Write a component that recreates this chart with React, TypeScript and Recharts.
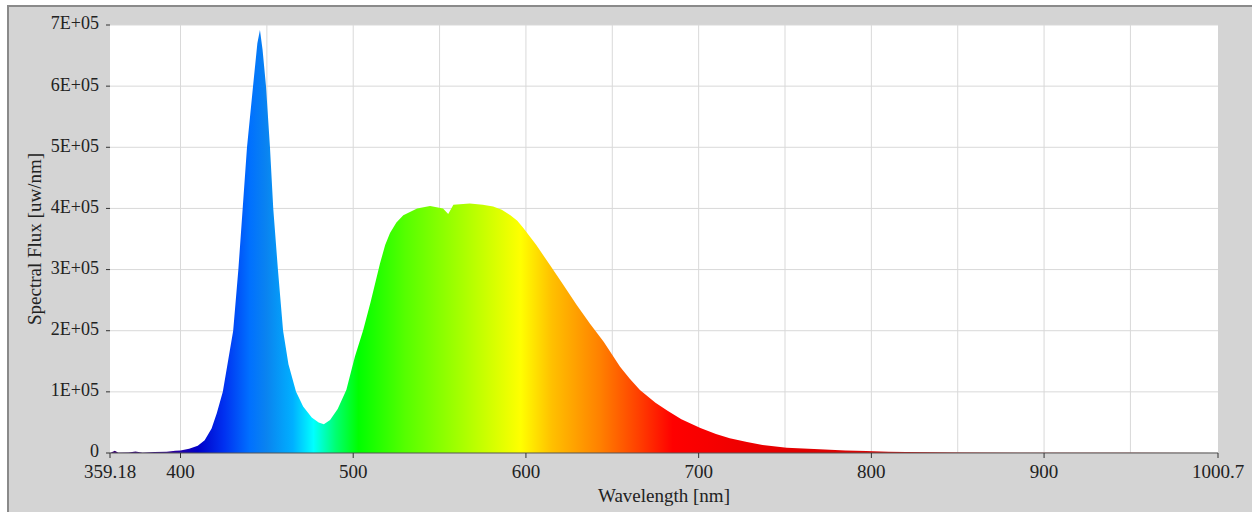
import { AreaChart, Area, XAxis, YAxis, CartesianGrid } from 'recharts';

// wavelength (nm) and spectral flux (uw/nm)
const wavelengths = [
  359.18, 362, 364, 370, 374, 378, 385, 392, 397, 400, 405, 410, 414, 418, 421,
  424.5, 427.5, 430.5, 433.5, 436, 438.5, 442, 444.5, 446, 447.5, 449.5, 451.8,
  453.7, 456.4, 459.4, 462.5, 466.9, 471, 476, 480, 483, 486.6, 491, 496, 501,
  505.8, 510, 515.5, 518.5, 521.3, 525, 529, 537, 544.5, 552, 555, 558, 567.5,
  575, 581, 586, 591, 595, 598.5, 606, 614, 621.6, 629.4, 637, 645, 654.5, 660,
  666, 675, 682, 690, 701, 710, 718, 728, 737, 751, 770, 785, 797, 810, 820,
  850, 900, 950, 1000.7,
];
const flux = [
  0, 3500, 500, 800, 2500, 600, 1500, 2000, 3500, 4000, 7000, 12000, 21000,
  40000, 65000, 100000, 150000, 200000, 300000, 400000, 500000, 600000, 670000,
  692000, 660000, 600000, 500000, 400000, 300000, 200000, 145000, 100000, 76000,
  58000, 50000, 47000, 54000, 72000, 103000, 158000, 201000, 246000, 310000,
  340000, 360000, 377000, 389000, 400000, 404000, 400000, 391000, 406000,
  408000, 406000, 403000, 398000, 389000, 380000, 368000, 340000, 307000,
  275000, 242000, 212000, 182000, 141000, 122000, 103000, 82000, 69000, 55000,
  41000, 31000, 24000, 18000, 13000, 8700, 6000, 4200, 3300, 2200, 1500, 800,
  500, 300, 200,
];
const xTicks = [359.18, 400, 500, 600, 700, 800, 900, 1000.7];
const xGrid = [400, 450, 500, 550, 600, 650, 700, 750, 800, 850, 900, 950];
const yTicks = [0, 100000, 200000, 300000, 400000, 500000, 600000, 700000];

const X_MIN = 359.18;
const X_MAX = 1000.7;

// colour of the fill along the wavelength axis
const spectrumStops: [number, string][] = [
  [359.18, '#3a0070'],
  [395, '#30009a'],
  [410, '#0000c8'],
  [425, '#0030f0'],
  [440, '#0070ff'],
  [450, '#0a84f0'],
  [465, '#00b0ff'],
  [477, '#00ffff'],
  [490, '#00ff70'],
  [503, '#00ff00'],
  [530, '#55ff00'],
  [560, '#a0ff00'],
  [585, '#e0ff00'],
  [597, '#ffff00'],
  [615, '#ffc000'],
  [643, '#ff8000'],
  [665, '#ff4000'],
  [685, '#ff0000'],
  [760, '#e00000'],
  [1000.7, '#b03030'],
];

const data = wavelengths.map((w, i) => ({ wl: w, flux: flux[i] }));

const fontFamily = '"Liberation Serif", "Times New Roman", serif';
const tickStyle = { fill: '#222', fontSize: 19, fontFamily };

const fmtY = (v: number) => (v === 0 ? '0' : `${v / 100000}E+05`);

export default function App() {
  return (
    <div
      style={{
        position: 'absolute',
        left: 7,
        top: 5,
        width: 1243,
        height: 505,
        background: '#d4d4d4',
        borderLeft: '2px solid #8a8a8a',
        borderTop: '2px solid #8a8a8a',
        overflow: 'hidden',
      }}
    >
      <AreaChart
        width={1243}
        height={505}
        data={data}
        margin={{ top: 18, right: 34, bottom: 0, left: 0 }}
      >
        <defs>
          <linearGradient id='spec' x1='0' y1='0' x2='1' y2='0'>
            {spectrumStops.map(([w, c]) => (
              <stop key={w} offset={(w - X_MIN) / (X_MAX - X_MIN)} stopColor={c} />
            ))}
          </linearGradient>
        </defs>
        <CartesianGrid
          fill='#ffffff'
          stroke='#d9d9d9'
          verticalValues={xGrid}
          horizontalValues={yTicks}
        />
        <XAxis
          dataKey='wl'
          type='number'
          domain={[X_MIN, X_MAX]}
          ticks={xTicks}
          interval={0}
          height={59}
          tickSize={5}
          tickMargin={7}
          tick={tickStyle}
          stroke='#555'
          tickLine={{ stroke: '#333' }}
          label={{
            value: 'Wavelength [nm]',
            position: 'insideBottom',
            offset: 10,
            style: { fill: '#222', fontSize: 19, fontFamily },
          }}
        />
        <YAxis
          type='number'
          domain={[0, 700000]}
          ticks={yTicks}
          width={101}
          axisLine={false}
          tickSize={4}
          tickMargin={7}
          tick={{ ...tickStyle, fontSize: 18, dy: -2 }}
          tickLine={{ stroke: '#333' }}
          tickFormatter={fmtY}
          label={{
            value: 'Spectral Flux [uw/nm]',
            angle: -90,
            position: 'insideLeft',
            offset: 25,
            style: { fill: '#222', fontSize: 19, fontFamily, textAnchor: 'middle' },
          }}
        />
        <Area
          type='linear'
          dataKey='flux'
          stroke='none'
          fill='url(#spec)'
          fillOpacity={1}
          isAnimationActive={false}
        />
      </AreaChart>
    </div>
  );
}
